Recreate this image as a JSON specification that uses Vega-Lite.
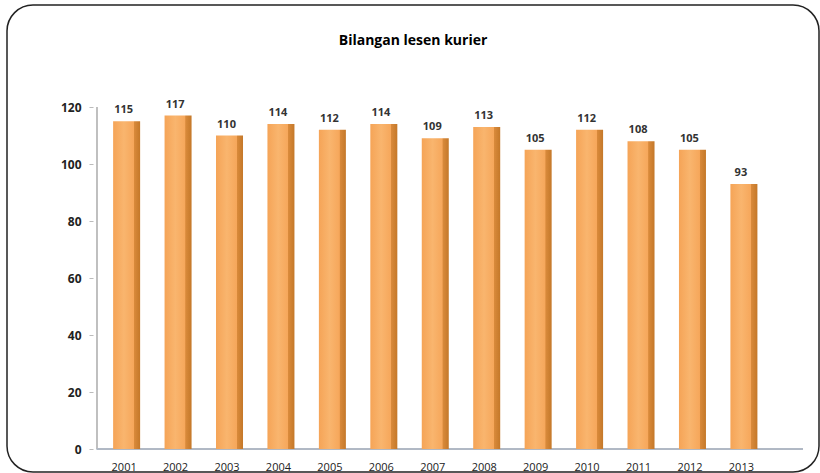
{
  "$schema": "https://vega.github.io/schema/vega-lite/v6.json",
  "width": 820,
  "height": 473,
  "autosize": {"type": "fit", "contains": "padding"},
  "padding": {"left": 7, "top": 5, "right": 1, "bottom": 1},
  "background": "white",
  "config": {
    "view": {"stroke": "#222222", "strokeWidth": 1.5, "cornerRadius": 26},
    "font": "Open Sans"
  },
  "title": {
    "text": "Bilangan lesen kurier",
    "anchor": "middle",
    "frame": "group",
    "offset": -43,
    "fontSize": 14,
    "fontWeight": "bold",
    "font": "Open Sans",
    "color": "#000000"
  },
  "data": {
    "values": [
      {"year": 2001, "count": 115},
      {"year": 2002, "count": 117},
      {"year": 2003, "count": 110},
      {"year": 2004, "count": 114},
      {"year": 2005, "count": 112},
      {"year": 2006, "count": 114},
      {"year": 2007, "count": 109},
      {"year": 2008, "count": 113},
      {"year": 2009, "count": 105},
      {"year": 2010, "count": 112},
      {"year": 2011, "count": 108},
      {"year": 2012, "count": 105},
      {"year": 2013, "count": 93}
    ]
  },
  "encoding": {
    "x": {
      "field": "year",
      "type": "quantitative",
      "scale": {"domain": [1998.83, 2014.421], "nice": false, "zero": false},
      "axis": {
        "title": null,
        "orient": "bottom",
        "offset": -22,
        "values": [2001, 2002, 2003, 2004, 2005, 2006, 2007, 2008, 2009, 2010, 2011, 2012, 2013],
        "format": "d",
        "domain": false,
        "ticks": false,
        "grid": false,
        "labelAngle": 0,
        "labelFontSize": 11,
        "labelColor": "#222222",
        "labelPadding": 11
      }
    },
    "y": {
      "field": "count",
      "type": "quantitative",
      "scale": {"domain": [-8.07, 155.79], "nice": false, "zero": false},
      "axis": {
        "title": null,
        "offset": -86,
        "values": [0, 20, 40, 60, 80, 100, 120],
        "domain": false,
        "grid": false,
        "tickColor": "#bbbbbb",
        "tickSize": 4,
        "labelFontSize": 12,
        "labelFontWeight": "bold",
        "labelColor": "#222222",
        "labelPadding": 8
      }
    }
  },
  "layer": [
    {
      "mark": {"type": "rule", "color": "#bfbfbf", "strokeWidth": 1},
      "encoding": {
        "x": {"datum": 2000.48},
        "y": {"datum": 0},
        "y2": {"datum": 120}
      }
    },
    {
      "mark": {"type": "rule", "color": "#b0b8c4", "strokeWidth": 1},
      "encoding": {
        "x": {"datum": 2000.48},
        "x2": {"datum": 2014.2},
        "y": {"datum": 0}
      }
    },
    {
      "mark": {
        "type": "bar",
        "width": 27,
        "xOffset": 3,
        "fill": {
          "gradient": "linear",
          "x1": 0, "x2": 1, "y1": 0, "y2": 0,
          "stops": [
            {"offset": 0, "color": "#F5A457"},
            {"offset": 0.4, "color": "#F9B56E"},
            {"offset": 0.76, "color": "#F6A75B"},
            {"offset": 0.78, "color": "#D98A3B"},
            {"offset": 1, "color": "#C47829"}
          ]
        }
      },
      "encoding": {"y2": {"datum": 0}}
    },
    {
      "mark": {
        "type": "text",
        "baseline": "bottom",
        "dy": -6,
        "fontSize": 11,
        "fontWeight": "bold",
        "color": "#333333"
      },
      "encoding": {"text": {"field": "count", "type": "quantitative"}}
    }
  ]
}
